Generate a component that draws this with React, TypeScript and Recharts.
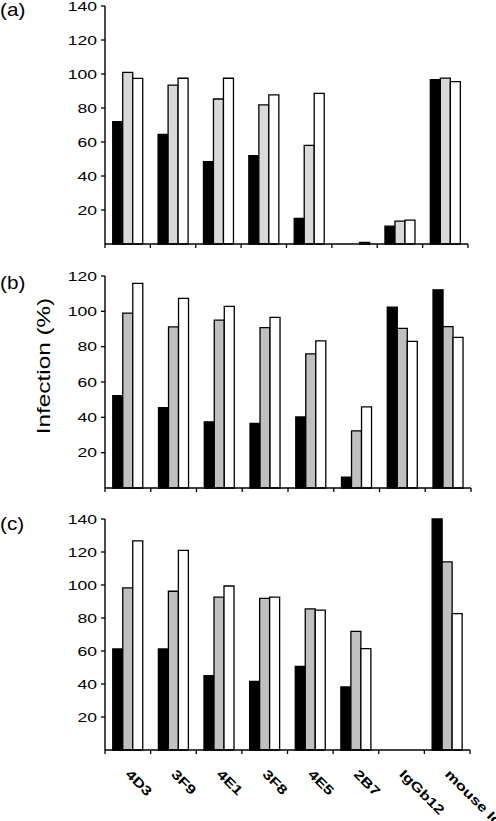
import React from 'react';
import { BarChart, Bar, XAxis, YAxis } from 'recharts';

const categories = ['4D3', '3F9', '4E1', '3F8', '4E5', '2B7', 'IgGb12', 'mouse Ig'];

// panel (a)
const aBlack = [72, 64.5, 48.5, 52, 15, 0, 10.5, 96.7];
const aGray = [101, 93.5, 85.3, 81.8, 58, 0, 13.5, 97.6];
const aWhite = [97.4, 97.5, 97.5, 87.7, 88.6, 1, 14, 95.5];

// panel (b)
const bBlack = [52.3, 45.5, 37.4, 36.5, 40.2, 6.2, 102.4, 112.2];
const bGray = [99, 91.2, 95, 90.8, 75.9, 32.3, 90.4, 91.4];
const bWhite = [115.8, 107.3, 102.8, 96.6, 83.3, 45.9, 83, 85.3];

// panel (c)
const cBlack = [61.2, 61.2, 45, 41.6, 50.7, 38.2, 0, 140];
const cGray = [98.2, 96.2, 92.7, 91.9, 85.5, 71.9, 0, 114];
const cWhite = [126.7, 121, 99.4, 92.7, 84.8, 61.4, 0, 82.6];

const ticks140 = [20, 40, 60, 80, 100, 120, 140];
const ticks120 = [20, 40, 60, 80, 100, 120];

const FONT = '"Liberation Sans", Arial, sans-serif';
const W = 496;
const Y_AXIS_W = 60;

const buildRows = (s1: number[], s2: number[], s3: number[]) =>
  categories.map((name, i) => ({ name, s1: s1[i], s2: s2[i], s3: s3[i] }));

const YTick = ({ x, y, payload }: any) => (
  <g transform={`translate(${x},${y})`}>
    <text textAnchor="end" dy="0.36em" fontSize={13} fontFamily={FONT} fill="#000" transform="scale(1.35,1)">
      {payload.value}
    </text>
  </g>
);

const makeXTick = (plotWidth: number, showLabels: boolean) => {
  const half = plotWidth / categories.length / 2;
  return ({ x, y, index, payload }: any) => (
    <g>
      <line x1={x - half} x2={x - half} y1={y} y2={y + 4} stroke="#000" strokeWidth={1.3} />
      {index === categories.length - 1 && (
        <line x1={x + half} x2={x + half} y1={y} y2={y + 4} stroke="#000" strokeWidth={1.3} />
      )}
      {showLabels && (
        <g transform={`translate(${x - 3},${y + 25}) rotate(45)`}>
          <text fontSize={13} fontWeight="bold" fontFamily={FONT} fill="#000" transform="scale(1.3,1)">
            {payload.value}
          </text>
        </g>
      )}
    </g>
  );
};

interface PanelProps {
  top: number;
  height: number;
  margin: { top: number; right: number; bottom: number; left: number };
  xHeight: number;
  max: number;
  ticks: number[];
  rows: any[];
  gray: string;
  showLabels?: boolean;
}

const Panel = ({ top, height, margin, xHeight, max, ticks, rows, gray, showLabels = false }: PanelProps) => {
  const plotWidth = W - margin.left - margin.right - Y_AXIS_W;
  return (
    <div style={{ position: 'absolute', left: 0, top }}>
      <BarChart width={W} height={height} data={rows} margin={margin} barGap={0} barCategoryGap="17%">
        <XAxis
          dataKey="name"
          height={xHeight}
          interval={0}
          tickLine={false}
          tickSize={0}
          tickMargin={0}
          axisLine={{ stroke: '#000', strokeWidth: 1.4 }}
          tick={makeXTick(plotWidth, showLabels)}
        />
        <YAxis
          width={Y_AXIS_W}
          domain={[0, max]}
          ticks={ticks}
          interval={0}
          tickSize={4}
          tickMargin={4}
          tickLine={{ stroke: '#000', strokeWidth: 1.3 }}
          axisLine={{ stroke: '#000', strokeWidth: 1.4 }}
          tick={<YTick />}
        />
        <Bar dataKey="s1" fill="#000" stroke="#000" strokeWidth={1.3} isAnimationActive={false} />
        <Bar dataKey="s2" fill={gray} stroke="#000" strokeWidth={1.3} isAnimationActive={false} />
        <Bar dataKey="s3" fill="#fff" stroke="#000" strokeWidth={1.3} isAnimationActive={false} />
      </BarChart>
    </div>
  );
};

export default function App() {
  return (
    <div style={{ position: 'absolute', left: 0, top: 0, width: W, height: 821, background: '#fff', overflow: 'hidden' }}>
      <Panel
        top={0}
        height={260}
        margin={{ top: 6, right: 28, bottom: 6, left: 45 }}
        xHeight={10}
        max={140}
        ticks={ticks140}
        rows={buildRows(aBlack, aGray, aWhite)}
        gray="#d9d9d9"
      />
      <Panel
        top={255}
        height={250}
        margin={{ top: 21, right: 25, bottom: 7, left: 45 }}
        xHeight={10}
        max={120}
        ticks={ticks120}
        rows={buildRows(bBlack, bGray, bWhite)}
        gray="#c0c0c0"
      />
      <Panel
        top={505}
        height={316}
        margin={{ top: 14, right: 26, bottom: 11, left: 45 }}
        xHeight={60}
        max={140}
        ticks={ticks140}
        rows={buildRows(cBlack, cGray, cWhite)}
        gray="#c0c0c0"
        showLabels
      />
      <svg width={W} height={821} style={{ position: 'absolute', left: 0, top: 0, pointerEvents: 'none' }}>
        <text transform="translate(0,16.2) scale(1.15,1)" fontSize={18} fontFamily={FONT} fill="#000">(a)</text>
        <text transform="translate(0,288.5) scale(1.15,1)" fontSize={18} fontFamily={FONT} fill="#000">(b)</text>
        <text transform="translate(0,529.5) scale(1.15,1)" fontSize={18} fontFamily={FONT} fill="#000">(c)</text>
        <g transform="translate(50,366) rotate(-90)">
          <text textAnchor="middle" fontSize={18} fontFamily={FONT} fill="#000" transform="scale(1.35,1)">
            Infection (%)
          </text>
        </g>
      </svg>
    </div>
  );
}
